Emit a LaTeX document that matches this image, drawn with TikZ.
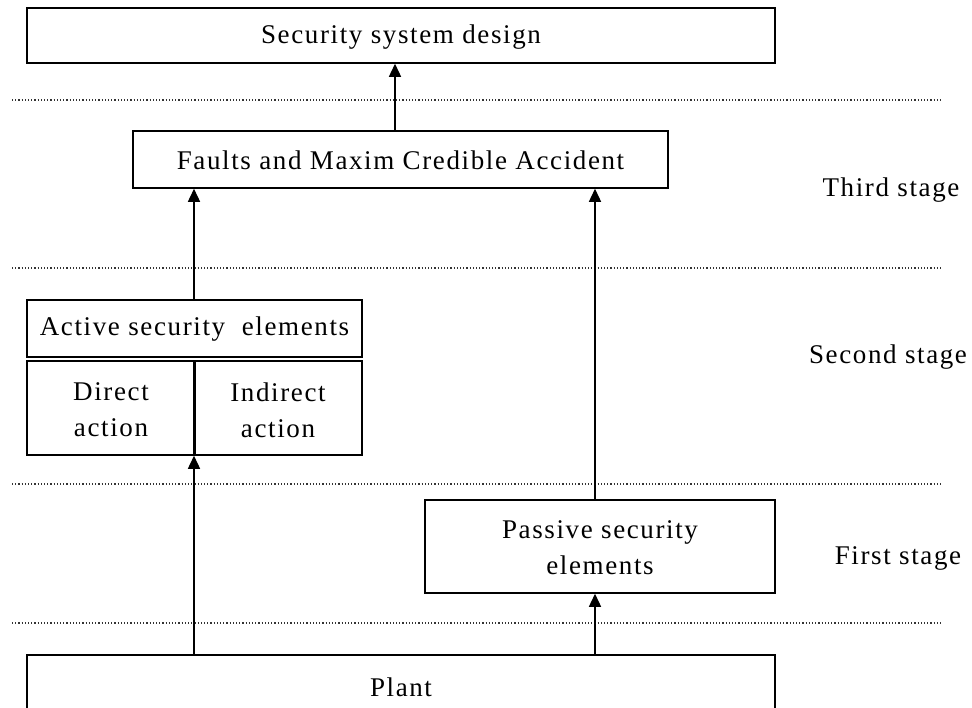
\documentclass[tikz,border=0pt]{standalone}
\usepackage{fontspec}
\setmainfont{Liberation Serif}[LetterSpace=6]
\usetikzlibrary{arrows.meta,calc}
\begin{document}
\begin{tikzpicture}[x=1pt,y=-1pt,
  box/.style={draw,line width=1.5pt,rectangle,inner sep=0pt},
  lbl/.style={font=\fontsize{27}{36}\selectfont,align=center,inner sep=0pt},
  arr/.style={line width=1.4pt,-{Triangle[width=12pt,length=13pt]}},
  sep/.style={dotted,line width=1.2pt,black!80}]
\useasboundingbox (0,0) rectangle (972,707);
\clip (0,0) rectangle (972,707);
% boxes
\node[box,minimum width=748pt,minimum height=55pt] (ssd) at (401,35.5) {};
\node[lbl] at ([yshift=-1.5pt]ssd.center) {Security system design};
\node[box,minimum width=535pt,minimum height=57pt] (faults) at (400.5,159.5) {};
\node[lbl] at ([yshift=-1pt]faults.center) {Faults and Maxim Credible Accident};
\node[box,minimum width=335pt,minimum height=57pt] (active) at (194.5,328.5) {};
\node[lbl] at ([yshift=-1pt]active.center) {Active security\ \ elements};
\node[box,minimum width=335pt,minimum height=94pt] (acts) at (194.5,408) {};
\node[lbl] (direct) at (111,410) {Direct\\action};
\node[lbl] (indirect) at (278,410) {Indirect\\action};
\coordinate (xl) at (194,0);
\coordinate (xm) at (395,0);
\coordinate (xr) at (595,0);
\draw[line width=3pt] (xl |- acts.north) -- (xl |- acts.south);
\node[box,minimum width=350pt,minimum height=93pt] (passive) at (600,546.5) {};
\node[lbl] at ([yshift=-1pt]passive.center) {Passive security\\elements};
\node[box,minimum width=748pt,minimum height=64pt] (plant) at (401,687) {};
\node[lbl] at (plant.center) {Plant};
% separators
\coordinate (s1l) at (12,100); \coordinate (s1r) at (942,100);
\coordinate (s2l) at (12,268); \coordinate (s2r) at (942,268);
\coordinate (s3l) at (12,484); \coordinate (s3r) at (942,484);
\coordinate (s4l) at (12,623); \coordinate (s4r) at (942,623);
\draw[sep] (s1l) -- (s1r);
\draw[sep] (s2l) -- (s2r);
\draw[sep] (s3l) -- (s3r);
\draw[sep] (s4l) -- (s4r);
% stage labels
\node[lbl] (third) at (891,190) {Third stage};
\node[lbl] (second) at (888,357) {Second stage};
\node[lbl] (first) at (898,558) {First stage};
% arrows
\draw[arr] (xl |- plant.north) -- (xl |- acts.south);
\draw[arr] (xr |- plant.north) -- (xr |- passive.south);
\draw[arr] (xr |- passive.north) -- (xr |- faults.south);
\draw[arr] (xl |- active.north) -- (xl |- faults.south);
\draw[arr] (xm |- faults.north) -- (xm |- ssd.south);
\end{tikzpicture}
\end{document}
